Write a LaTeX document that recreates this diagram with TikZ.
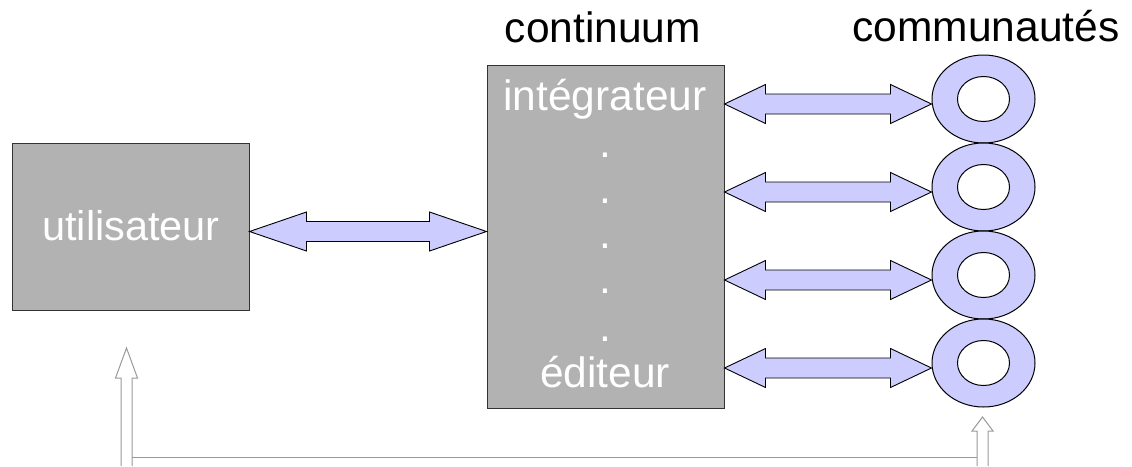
\documentclass[tikz,border=0pt]{standalone}
\usepackage{fontspec}
\setmainfont{Liberation Sans}
\usetikzlibrary{shapes.geometric,calc}
\definecolor{boxgray}{HTML}{B2B2B2}
\definecolor{lav}{HTML}{CCCCFF}
\definecolor{linkgray}{HTML}{999999}
\definecolor{edge}{HTML}{333333}

% double-headed block arrow between two points (same height)
% #1 left tip, #2 right tip, #3 head length
\newcommand{\biarrow}[3]{%
  \draw[barrow] let \p1=(#1), \p2=(#2) in
    (\x1,\y1) -- (\x1+#3,\y1+19.5pt) -- (\x1+#3,\y1+10pt) --
    (\x2-#3,\y1+10pt) -- (\x2-#3,\y1+19.5pt) -- (\x2,\y1) --
    (\x2-#3,\y1-19.5pt) -- (\x2-#3,\y1-10pt) -- (\x1+#3,\y1-10pt) --
    (\x1+#3,\y1-19.5pt) -- cycle;}

\begin{document}
\begin{tikzpicture}[x=1pt,y=-1pt,
  block/.style={draw=edge, line width=1pt, fill=boxgray, inner sep=0pt},
  whitetxt/.style={text=white, anchor=base, inner sep=0pt,
    font=\fontsize{42.5pt}{48pt}\selectfont},
  title/.style={text=black, anchor=base, inner sep=0pt,
    font=\fontsize{42.5pt}{48pt}\selectfont},
  barrow/.style={draw=black, line width=0.9pt, fill=lav, line join=miter},
  ring/.style={ellipse, draw=black, line width=1pt, fill=lav,
    minimum width=103pt, minimum height=88pt, inner sep=0pt},
  hole/.style={ellipse, draw=black, line width=1pt, fill=white,
    minimum width=52pt, minimum height=45pt, inner sep=0pt},
  link/.style={draw=linkgray, line width=1pt, line join=miter}]
\useasboundingbox (0,0) rectangle (1132,466);

% user box
\node[block, minimum width=237pt, minimum height=167pt] (u) at (130.5,226.5) {};
\node[whitetxt, font=\fontsize{41.5pt}{48pt}\selectfont] (ut) at (131,240) {utilisateur};

% continuum box with its contents
\node[block, minimum width=237pt, minimum height=343pt] (c) at (605.5,236.5) {};
\node[title] (ct) at (603,42) {continuum};
\node[whitetxt] (ci) at (605,110) {intégrateur};
\node[whitetxt] (d1) at (605,157) {.};
\node[whitetxt] (d2) at (605,203) {.};
\node[whitetxt] (d3) at (605,248) {.};
\node[whitetxt] (d4) at (605,293) {.};
\node[whitetxt] (d5) at (605,341) {.};
\node[whitetxt] (ce) at (605,387) {éditeur};

% communities
\node[title] (kt) at (986,41) {communautés};
\foreach \i/\y in {1/99,2/187,3/275,4/363}{
  \node[ring] (r\i) at (983.5,\y) {};
  \node[hole] (h\i) at (983.5,\y) {};
}

% user <-> continuum
\coordinate (ua) at (u.east |- 0,231.5);
\coordinate (ca) at (c.west |- 0,231.5);
\biarrow{ua}{ca}{57pt}

% continuum <-> communities
\foreach \i/\y in {1/104,2/192,3/280,4/368}{
  \coordinate (cl\i) at (c.east |- 0,\y);
  \coordinate (rr\i) at (r\i.west |- 0,\y);
  \biarrow{cl\i}{rr\i}{41pt}
}

% feedback link from the communities back to the user
\coordinate (lt) at (126.5,348);
\coordinate (rt) at (982.5,417);
\draw[link] (121,466) -- (121,378) -- (115.5,378) -- (lt) -- (137.5,378)
  -- (132,378) -- (132,466);
\draw[link] (977,466) -- (977,431) -- (972,431) -- (rt) -- (993,431)
  -- (988,431) -- (988,466);
\draw[link] (132,457) -- (977,457);
\end{tikzpicture}
\end{document}
